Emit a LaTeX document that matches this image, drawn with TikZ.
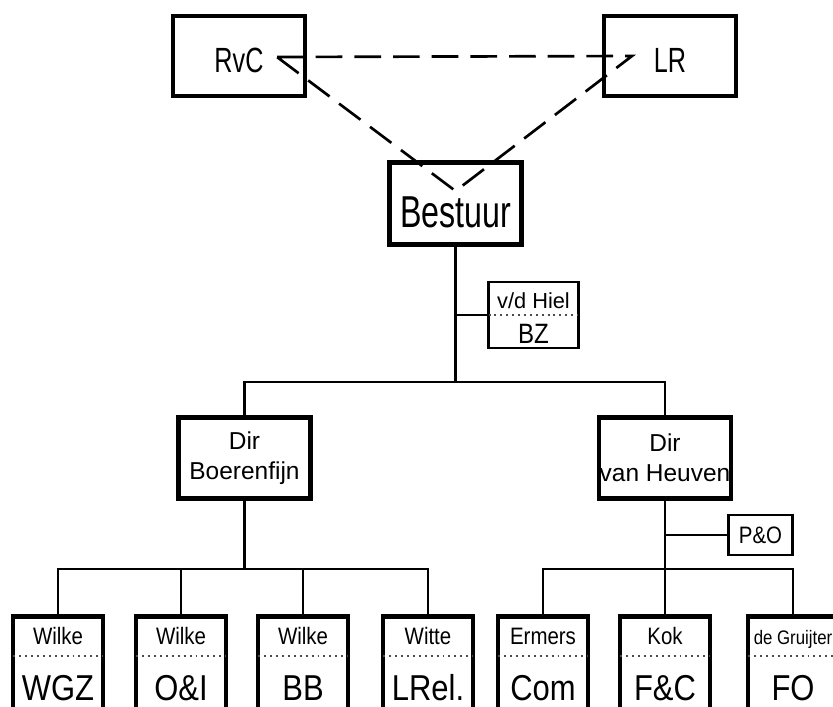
\documentclass[tikz,border=0pt]{standalone}
\usepackage{fontspec}
\setmainfont{Liberation Sans}
\newfontfamily\narrowfont{Liberation Sans}[FakeStretch=0.72]
\newfontfamily\condfont{Liberation Sans}[FakeStretch=0.86]
\usepackage{tikz}
\usetikzlibrary{calc}

\begin{document}
\begin{tikzpicture}[x=0.025cm,y=-0.025cm,
  bigbox/.style={draw,line width=3.2pt,fill=white,inner sep=0pt},
  smallbox/.style={draw,line width=1.8pt,fill=white,inner sep=0pt},
  topbox/.style={bigbox,minimum width=3.29cm,minimum height=1.99cm,
    font=\narrowfont\fontsize{24.9}{26}\selectfont,text height=22.8pt,text depth=0pt},
  dirbox/.style={bigbox,minimum width=3.31cm,minimum height=2.03cm,align=center,
    font=\fontsize{17.4}{21.3}\selectfont},
  unitbox/.style={bigbox,anchor=north,minimum width=2.24cm,minimum height=3.25cm},
  link/.style={line width=1.8pt},
  relation/.style={line width=1.9pt,dash pattern=on 19pt off 8.5pt},
  sep/.style={line width=1.1pt,black!70,dash pattern=on 1.4pt off 2.8pt},
  who/.style={anchor=base,font=\condfont\fontsize{16.9}{18}\selectfont},
  dept/.style={anchor=base,font=\condfont\fontsize{25.6}{28}\selectfont}]
\useasboundingbox (0,0) rectangle (833,706);
\clip (0,0) rectangle (833,706);

% top level
\node[topbox] (rvc) at (239,56) {RvC};
\node[topbox] (lr) at (670,56) {LR};
\node[bigbox,minimum width=3.31cm,minimum height=2.06cm,
  font=\narrowfont\fontsize{31.8}{34}\selectfont,text height=34pt,text depth=0pt]
  (bestuur) at (455.5,203.5) {Bestuur};

% staff
\node[smallbox,minimum width=2.26cm,minimum height=1.64cm] (bz) at (533.5,315) {};
\node[anchor=base,font=\fontsize{15.5}{17}\selectfont] (bz-who) at ($(bz.center)+(0,-7)$) {v/d Hiel};
\draw[sep] ($(bz.west)+(1.5,0)$) -- ($(bz.east)+(-1.5,0)$);
\node[anchor=base,font=\condfont\fontsize{19.9}{22}\selectfont] (bz-dept) at ($(bz.center)+(0,28)$) {BZ};

% directors
\node[dirbox] (dirb) at (244.5,458) {Dir\\Boerenfijn};
\node[dirbox] (dirh) at (665,458) {Dir\\van Heuven};
\node[smallbox,minimum width=1.61cm,minimum height=0.99cm,
  font=\condfont\fontsize{16.9}{18}\selectfont] (po) at (760.5,535) {P\&O};

% departments
\foreach \x/\id/\who/\dept in {58/wgz/Wilke/WGZ, 181/oi/Wilke/O\&I, 303/bb/Wilke/BB,
    428/lrel/Witte/LRel., 543/com/Ermers/Com, 665/fc/Kok/F\&C,
    793/fo/{\fontsize{13.9}{15}\selectfont de Gruijter}/FO}
{
  \node[unitbox] (\id) at (\x,614) {};
  \node[who] (\id-who) at ($(\id.north)+(0,30)$) {\who};
  \draw[sep] ($(\id.north west)+(2.5,42)$) -- ($(\id.north east)+(-2.5,42)$);
  \node[dept] (\id-dept) at ($(\id.north)+(0,86)$) {\dept};
}

% lines
\coordinate (topbar) at (0,382);
\coordinate (lowbar) at (0,569);
\draw[link] (bestuur.south) -- (bestuur.south |- topbar);
\draw[link] (bz.west) -- (bz.west -| bestuur.south);
\draw[link] (dirb.north) |- (dirh.north |- topbar) -- (dirh.north);
\draw[link] (dirb.south) -- (dirb.south |- lowbar);
\draw[link] (wgz.north) |- (lrel.north |- lowbar) -- (lrel.north);
\foreach \id in {oi,bb}
  \draw[link] (\id.north) -- (\id.north |- lowbar);
\draw[link] (dirh.south) -- (fc.north);
\draw[link] (po.west) -- (po.west -| dirh.south);
\draw[link] (com.north) |- (fo.north |- lowbar) -- (fo.north);

% dashed relations
\coordinate (r) at ($(rvc.center)+(38,1)$);
\coordinate (l) at ($(lr.center)+(-38,0)$);
\coordinate (b) at ($(bestuur.center)+(0,-12.5)$);
\draw[relation] (r) -- (l) -- (b) -- cycle;
\end{tikzpicture}
\end{document}
